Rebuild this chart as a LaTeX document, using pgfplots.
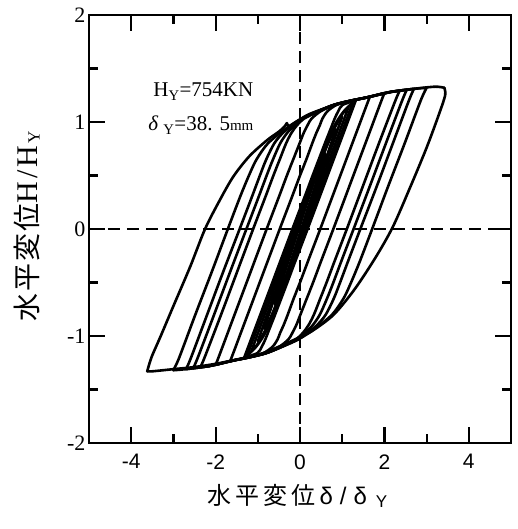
\documentclass[border=0pt]{standalone}
\usepackage{fontspec}
\setmainfont{Liberation Serif}
\setsansfont{Liberation Sans}
\newfontfamily\cjk{Noto Sans CJK JP}
\usepackage{pgfplots}
\pgfplotsset{compat=1.18}
\begin{document}
\begin{tikzpicture}
\begin{axis}[
  scale only axis, width=422pt, height=428pt,
  xmin=-5, xmax=5, ymin=-2, ymax=2,
  axis line style={line width=2.2pt},
  xtick={-4,-2,0,2,4}, xticklabels={-4,-2,0,2,4},
  ytick={-2,-1,0,1,2}, yticklabels={-2,-1,0,1,2},
  minor xtick={-3,-1,1,3}, minor ytick={-1.5,-0.5,0.5,1.5},
  tick align=inside, tick pos=both,
  major tick length=16pt, minor tick length=9pt,
  tick style={line width=2.2pt, black},
  xticklabel style={font=\fontsize{21}{21}\selectfont\sffamily, yshift=-8pt},
  yticklabel style={font=\fontsize{22}{22}\selectfont\rmfamily},
  clip=false,
  lp/.style={line width=2.6pt, smooth, tension=0.5, line join=round, line cap=round, black},
]
% dashed zero lines
\addplot[line width=2pt, dash pattern=on 12pt off 7pt] coordinates {(-5,0) (5,0)};
\addplot[line width=2pt, dash pattern=on 12pt off 7pt] coordinates {(0,-2) (0,2)};
% outer loop
\addplot[lp] coordinates {(-3.62,-1.33) (-3.52,-1.2) (-3.3,-1.0) (-3.0,-0.72) (-2.6,-0.35) (-2.25,0) (-1.9,0.27) (-1.58,0.49) (-1.2,0.68) (-0.78,0.83) (-0.5,0.91) (-0.36,0.96) (-0.31,0.99) (-0.27,0.96) (-0.1,1.0) (0.2,1.07) (0.6,1.13) (1.0,1.18) (1.58,1.23) (2.13,1.28) (2.7,1.31) (3.2,1.33) (3.42,1.32)};
\addplot[lp] coordinates {(3.42,1.32) (3.44,1.25) (3.3,1.08) (3.0,0.76) (2.6,0.38) (2.2,0.02) (1.8,-0.26) (1.3,-0.56) (0.8,-0.8) (0.3,-0.95) (0,-1.01) (-0.5,-1.1) (-0.95,-1.17) (-1.5,-1.22) (-2,-1.26) (-2.5,-1.29) (-3,-1.31) (-3.5,-1.33) (-3.62,-1.33)};
% a = 3.0
\addplot[lp] coordinates {(-3.0,-1.32) (-2.86,-1.2) (-2.48,-0.8) (-2.09,-0.4) (-1.71,0) (-1.42,0.3) (-1.21,0.5) (-1.03,0.65) (-0.76,0.8) (-0.36,0.93) (0.03,1.03) (0.42,1.1) (0.80,1.16) (1.21,1.2) (1.59,1.23) (2.14,1.28) (2.71,1.31) (3.0,1.32)};
\addplot[lp] coordinates {(3.0,1.32) (2.86,1.2) (2.48,0.8) (2.09,0.4) (1.71,0) (1.42,-0.3) (1.21,-0.5) (1.03,-0.65) (0.76,-0.8) (0.36,-0.93) (-0.03,-1.03) (-0.42,-1.1) (-0.80,-1.16) (-1.21,-1.2) (-1.59,-1.23) (-2.14,-1.28) (-2.71,-1.31) (-3.0,-1.32)};
% a = 2.7
\addplot[lp] coordinates {(-2.7,-1.31) (-2.58,-1.2) (-2.2,-0.8) (-1.82,-0.4) (-1.43,0) (-1.14,0.3) (-0.95,0.5) (-0.80,0.65) (-0.61,0.8) (-0.40,0.9) (-0.18,0.97) (0.04,1.03) (0.43,1.1) (0.80,1.16) (1.21,1.2) (1.59,1.23) (2.14,1.28) (2.7,1.31)};
\addplot[lp] coordinates {(2.7,1.31) (2.58,1.2) (2.2,0.8) (1.82,0.4) (1.43,0) (1.14,-0.3) (0.95,-0.5) (0.80,-0.65) (0.61,-0.8) (0.40,-0.9) (0.18,-0.97) (-0.04,-1.03) (-0.43,-1.1) (-0.80,-1.16) (-1.21,-1.2) (-1.59,-1.23) (-2.14,-1.28) (-2.7,-1.31)};
% a = 2.53
\addplot[lp] coordinates {(-2.53,-1.30) (-2.42,-1.2) (-2.035,-0.8) (-1.655,-0.4) (-1.27,0) (-0.98,0.3) (-0.79,0.5) (-0.64,0.65) (-0.47,0.8) (-0.30,0.9) (-0.125,0.97) (0.065,1.03) (0.435,1.1) (0.805,1.16) (1.21,1.2) (1.59,1.23) (2.14,1.28) (2.53,1.30)};
\addplot[lp] coordinates {(2.53,1.30) (2.42,1.2) (2.035,0.8) (1.655,0.4) (1.27,0) (0.98,-0.3) (0.79,-0.5) (0.64,-0.65) (0.47,-0.8) (0.30,-0.9) (0.125,-0.97) (-0.065,-1.03) (-0.435,-1.1) (-0.805,-1.16) (-1.21,-1.2) (-1.59,-1.23) (-2.14,-1.28) (-2.53,-1.30)};
% a = 2.36
\addplot[lp] coordinates {(-2.36,-1.29) (-2.26,-1.2) (-1.87,-0.8) (-1.49,-0.4) (-1.11,0) (-0.82,0.3) (-0.63,0.5) (-0.48,0.65) (-0.33,0.8) (-0.20,0.9) (-0.07,0.97) (0.09,1.03) (0.44,1.1) (0.81,1.16) (1.21,1.2) (1.59,1.23) (2.14,1.28) (2.36,1.29)};
\addplot[lp] coordinates {(2.36,1.29) (2.26,1.2) (1.87,0.8) (1.49,0.4) (1.11,0) (0.82,-0.3) (0.63,-0.5) (0.48,-0.65) (0.33,-0.8) (0.20,-0.9) (0.07,-0.97) (-0.09,-1.03) (-0.44,-1.1) (-0.81,-1.16) (-1.21,-1.2) (-1.59,-1.23) (-2.14,-1.28) (-2.36,-1.29)};
% a = 2.0
\addplot[lp] coordinates {(-2.0,-1.27) (-1.93,-1.2) (-1.55,-0.8) (-1.17,-0.4) (-0.79,0) (-0.50,0.3) (-0.31,0.5) (-0.16,0.65) (-0.01,0.8) (0.09,0.9) (0.18,0.97) (0.27,1.03) (0.49,1.1) (0.82,1.16) (1.23,1.2) (1.60,1.23) (2.0,1.27)};
\addplot[lp] coordinates {(2.0,1.27) (1.93,1.2) (1.55,0.8) (1.17,0.4) (0.79,0) (0.50,-0.3) (0.31,-0.5) (0.16,-0.65) (0.01,-0.8) (-0.09,-0.9) (-0.18,-0.97) (-0.27,-1.03) (-0.49,-1.1) (-0.82,-1.16) (-1.23,-1.2) (-1.60,-1.23) (-2.0,-1.27)};
% a = 1.66
\addplot[lp] coordinates {(-1.66,-1.235) (-1.62,-1.2) (-1.24,-0.8) (-0.86,-0.4) (-0.48,0) (-0.19,0.3) (0.0,0.5) (0.15,0.65) (0.29,0.8) (0.39,0.9) (0.47,0.97) (0.53,1.03) (0.65,1.1) (0.87,1.16) (1.24,1.2) (1.66,1.235)};
\addplot[lp] coordinates {(1.66,1.235) (1.62,1.2) (1.24,0.8) (0.86,0.4) (0.48,0) (0.19,-0.3) (0.0,-0.5) (-0.15,-0.65) (-0.29,-0.8) (-0.39,-0.9) (-0.47,-0.97) (-0.53,-1.03) (-0.65,-1.1) (-0.87,-1.16) (-1.24,-1.2) (-1.66,-1.235)};
% a = 1.32
\addplot[lp] coordinates {(-1.32,-1.2) (-0.94,-0.8) (-0.56,-0.4) (-0.18,0) (0.11,0.3) (0.30,0.5) (0.445,0.65) (0.59,0.8) (0.69,0.9) (0.76,0.97) (0.82,1.03) (0.905,1.1) (1.01,1.16) (1.32,1.2)};
\addplot[lp] coordinates {(1.32,1.2) (0.94,0.8) (0.56,0.4) (0.18,0) (-0.11,-0.3) (-0.30,-0.5) (-0.445,-0.65) (-0.59,-0.8) (-0.69,-0.9) (-0.76,-0.97) (-0.82,-1.03) (-0.905,-1.1) (-1.01,-1.16) (-1.32,-1.2)};
% core loops
\addplot[lp] coordinates {(-1.25,-1.18) (-0.695,-0.59) (-0.14,0) (0.415,0.59) (0.79,0.944) (1.032,1.097) (1.25,1.18)};
\addplot[lp] coordinates {(1.25,1.18) (0.695,0.59) (0.14,0) (-0.415,-0.59) (-0.79,-0.944) (-1.032,-1.097) (-1.25,-1.18)};
\addplot[lp] coordinates {(-1.15,-1.14) (-0.625,-0.57) (-0.10,0) (0.425,0.57) (0.77,0.912) (0.977,1.06) (1.15,1.14)};
\addplot[lp] coordinates {(1.15,1.14) (0.625,0.57) (0.10,0) (-0.425,-0.57) (-0.77,-0.912) (-0.977,-1.06) (-1.15,-1.14)};
\addplot[lp] coordinates {(-1.0,-1.05) (-0.535,-0.525) (-0.07,0) (0.395,0.525) (0.695,0.84) (0.865,0.977) (1.0,1.05)};
\addplot[lp] coordinates {(1.0,1.05) (0.535,0.525) (0.07,0) (-0.395,-0.525) (-0.695,-0.84) (-0.865,-0.977) (-1.0,-1.05)};
\addplot[lp] coordinates {(-0.85,-0.93) (-0.45,-0.465) (-0.05,0) (0.35,0.465) (0.605,0.744) (0.744,0.865) (0.85,0.93)};
\addplot[lp] coordinates {(0.85,0.93) (0.45,0.465) (0.05,0) (-0.35,-0.465) (-0.605,-0.744) (-0.744,-0.865) (-0.85,-0.93)};
\addplot[lp] coordinates {(-0.6,-0.7) (-0.315,-0.35) (-0.03,0) (0.255,0.35) (0.435,0.56) (0.53,0.651) (0.6,0.7)};
\addplot[lp] coordinates {(0.6,0.7) (0.315,0.35) (0.03,0) (-0.255,-0.35) (-0.435,-0.56) (-0.53,-0.651) (-0.6,-0.7)};
% annotations
\node[anchor=base west, font=\fontsize{21}{21}\selectfont, inner sep=0pt] at (axis cs:-3.48,1.234) {H\textsubscript{Y}=754KN};
\node[anchor=base west, font=\fontsize{21}{21}\selectfont, inner sep=0pt] at (axis cs:-3.60,0.916) {\textit{δ}\hspace{5pt}\textsubscript{Y}=38.\hspace{7pt}5{\fontsize{15}{15}\selectfont mm}};
% axis labels
\node[inner sep=0pt] at (axis description cs:0.494,-0.124) {{\fontsize{24}{24}\cjk 水\hspace{4pt}平\hspace{4pt}変\hspace{4pt}位}{\fontsize{24}{24}\sffamily\hspace{4pt}δ\hspace{7pt}/\hspace{7pt}δ\hspace{9pt}\raisebox{-3pt}{\fontsize{17}{17}\selectfont Y}}};
\node[inner sep=0pt, rotate=90] at (axis description cs:-0.147,0.506) {{\fontsize{28}{28}\cjk 水\hspace{2pt}平\hspace{2pt}変\hspace{2pt}位}{\fontsize{30}{30}\rmfamily H\hspace{3pt}/\hspace{3pt}H\hspace{2pt}\raisebox{-2pt}{\fontsize{17}{17}\selectfont Y}}};
\end{axis}
\pgfresetboundingbox
\path[use as bounding box] (-89pt,-86pt) rectangle (428pt,443pt);
\end{tikzpicture}
\end{document}
